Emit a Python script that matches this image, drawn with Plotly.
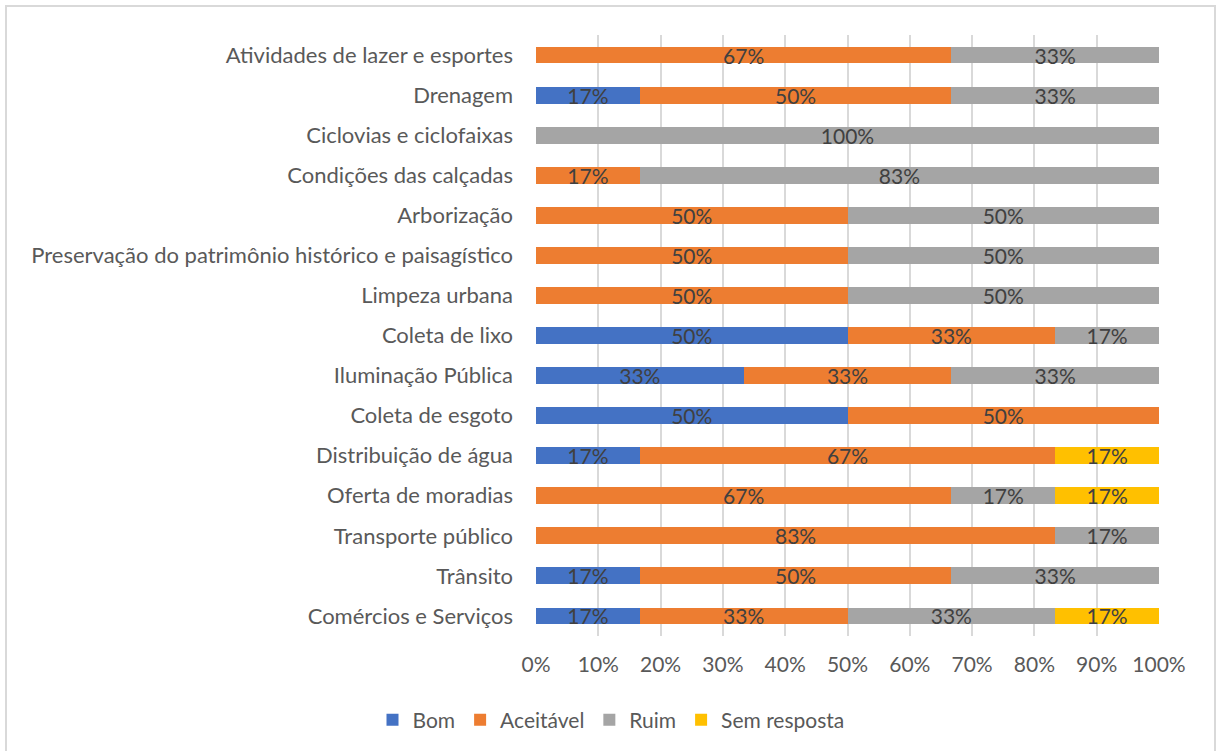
import plotly.graph_objects as go

categories = [
    "Comércios e Serviços",
    "Trânsito",
    "Transporte público",
    "Oferta de moradias",
    "Distribuição de água",
    "Coleta de esgoto",
    "Iluminação Pública",
    "Coleta de lixo",
    "Limpeza urbana",
    "Preservação do patrimônio histórico e paisagístico",
    "Arborização",
    "Condições das calçadas",
    "Ciclovias e ciclofaixas",
    "Drenagem",
    "Atividades de lazer e esportes",
]

bom = [16.67, 16.67, None, None, 16.67, 50, 33.33, 50, None, None, None, None, None, 16.67, None]
aceitavel = [33.33, 50, 83.33, 66.67, 66.67, 50, 33.33, 33.33, 50, 50, 50, 16.67, None, 50, 66.67]
ruim = [33.33, 33.33, 16.67, 16.67, None, None, 33.33, 16.67, 50, 50, 50, 83.33, 100, 33.33, 33.33]
sem_resposta = [16.67, None, None, 16.67, 16.67, None, None, None, None, None, None, None, None, None, None]

series = [
    ("Bom", bom, "#4472C4"),
    ("Aceitável", aceitavel, "#ED7D31"),
    ("Ruim", ruim, "#A5A5A5"),
    ("Sem resposta", sem_resposta, "#FFC000"),
]

FONT = "Lato"

fig = go.Figure()
for name, vals, color in series:
    fig.add_trace(go.Bar(
        name=name,
        y=categories,
        x=vals,
        orientation="h",
        marker=dict(color=color, line=dict(width=0)),
        text=[f"{round(v):.0f}%" if v is not None else "" for v in vals],
        textposition="inside",
        insidetextanchor="middle",
        textangle=0,
        constraintext="none",
        textfont=dict(family=FONT, size=21, color="#404040"),
        hoverinfo="x+y+name",
    ))

W, H = 1216, 751
L, R, T, B = 536, 57, 35, 114
pw, ph = W - L - R, H - T - B

fig.update_layout(
    width=W, height=H,
    barmode="stack",
    bargap=0.58,
    plot_bgcolor="white",
    paper_bgcolor="white",
    margin=dict(l=L, r=R, t=T, b=B, pad=0),
    font=dict(family=FONT, size=21, color="#595959"),
    xaxis=dict(
        range=[0, 100],
        tickvals=[0, 10, 20, 30, 40, 50, 60, 70, 80, 90, 100],
        ticktext=["0%", "10%", "20%", "30%", "40%", "50%", "60%", "70%", "80%", "90%", "100%"],
        showgrid=True, gridcolor="#D9D9D9", gridwidth=1.5,
        zeroline=False, showline=False,
        ticks="", ticklen=0,
        ticklabelstandoff=14,
        tickfont=dict(family=FONT, size=21, color="#595959"),
        fixedrange=True,
    ),
    yaxis=dict(
        showgrid=False, zeroline=False, showline=False,
        ticks="", ticklen=0,
        tickfont=dict(family=FONT, size=22, color="#595959"),
        automargin=False,
        ticklabelstandoff=22,
        fixedrange=True,
    ),
    legend=dict(
        orientation="h",
        x=(611 - L) / pw, xanchor="center",
        y=-(720 - (T + ph)) / ph, yanchor="middle",
        font=dict(family=FONT, size=21, color="#595959"),
        itemsizing="constant",
        traceorder="normal",
        itemwidth=30,
    ),
    showlegend=True,
    shapes=[dict(
        type="rect", xref="paper", yref="paper",
        x0=(6 - L) / pw, x1=(1215 - L) / pw,
        y0=-(760 - (T + ph)) / ph, y1=(T + ph - 6) / ph,
        line=dict(color="#D9D9D9", width=2), fillcolor="rgba(0,0,0,0)",
        layer="below",
    )],
)

fig.write_html(
    "out.html",
    config={"displayModeBar": False},
    post_script="document.body.style.margin='0';document.body.style.padding='0';",
)
